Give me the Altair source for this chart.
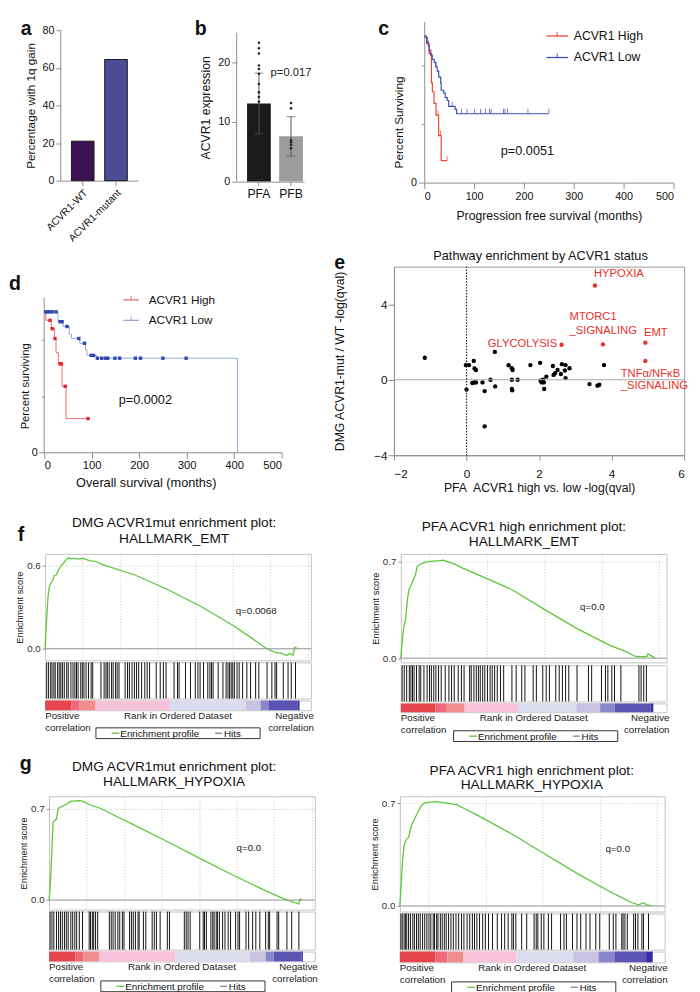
import altair as alt
import pandas as pd

FONT = "Liberation Sans"
NB = "\u00a0"
DEBUG_FRAMES = False
AX = "#8c8c8c"

# ---------------- data ----------------
a_groups = ["ACVR1-WT", "ACVR1-mutant"]
a_values = [21.0, 64.5]
a_colors = ["#3c1052", "#4a4c95"]

b_groups = ["PFA", "PFB"]
b_means = [13.1, 7.6]
b_lo = [8.0, 4.3]
b_hi = [18.2, 10.9]
b_colors = ["#1b1b1b", "#9c9c9c"]
b_pfa_pts = [23.3, 22.4, 21.5, 19.5, 18.9, 18.1, 16.4, 15.0, 14.2, 13.4]
b_pfb_pts = [13.2, 12.3, 7.0, 6.6, 6.2, 5.6]

km_groups = ["ACVR1 High", "ACVR1 Low"]
c_high_t = [0, 4.6, 9.8, 14.4, 16.3, 19.6, 23.5, 28.8, 34, 45.8]
c_high_s = [100, 95, 88, 68, 62, 54, 46, 32, 15, 15]
c_low_t = [0, 2, 5, 8, 10, 13, 16, 20, 23, 26, 29, 33, 34, 39, 42, 46, 49, 62, 65, 250]
c_low_s = [100, 99, 96, 93, 90, 87, 84, 82, 79, 76, 72, 68, 63, 61, 58, 56, 52, 50, 47, 47]
c_high_cens_t = [11.8, 27.5, 32.7, 45.8]
c_high_cens_s = [88, 46, 32, 15]
c_low_cens_t = [7, 24, 56, 75, 86, 101, 113, 123, 131, 134, 159, 162, 167, 208, 250]
c_low_cens_s = [96, 79, 52, 47, 47, 47, 47, 47, 47, 47, 47, 47, 47, 47, 47]

d_high_t = [0, 3.5, 15, 22, 25, 30, 37.7, 46, 92.5]
d_high_s = [100, 94, 88, 81, 71, 63, 47, 24, 24]
d_low_t = [0, 29, 40, 53, 57.5, 75, 87, 90, 110, 407, 407]
d_low_s = [100, 93, 89.6, 84, 81, 77.6, 73, 69, 67, 67, 0]
d_high_cens_t = [12.3, 17, 22.7, 33.6, 36.3, 44.5, 92.5]
d_high_cens_s = [94, 88, 81, 63, 63, 47, 24]
d_low_cens_t = [3.4, 6.8, 11.6, 17, 25, 33.6, 37.7, 48, 73, 85, 99, 104, 112, 121,
                129, 134, 149, 159, 192, 203, 250, 299]
d_low_cens_s = [100, 100, 100, 100, 100, 93, 93, 89.6, 81, 77.6, 69, 69, 67, 67,
                67, 67, 67, 67, 67, 67, 67, 67]

e_x = [-1.15, -0.02, 0.07, 0.0, 0.2, 0.22, 0.26, 0.16, 0.22, 0.26,
       0.44, 0.5, 0.5, 0.66, 0.79, 0.78, 1.16, 1.25, 1.27, 1.25,
       1.41, 1.25, 1.26, 1.76, 2.03, 2.04, 2.07, 2.11, 2.13, 2.2,
       2.14, 2.38, 2.4, 2.44, 2.51, 2.6, 2.63, 2.71, 2.73, 2.73,
       2.84, 3.39, 3.61, 3.66, 3.79]
e_y = [1.17, 0.78, 0.78, -0.52, 1.0, 0.6, 0.52, -0.17, -0.14, -0.14,
       -0.14, -0.6, -2.47, 0.0, -0.35, 1.48, 0.77, 0.61, 0.52, 0.0,
       0.0, -0.49, -0.56, 0.78, 0.9, -0.05, -0.14, 0.0, -0.14, 0.17,
       -0.49, 0.73, 0.26, 0.35, 0.52, 0.31, 0.83, 0.49, 0.78, 0.09,
       0.61, -0.23, -0.31, -0.26, 0.78]
e_hl_names = ["HYPOXIA", "MTORC1_SIGNALING", "GLYCOLYSIS", "EMT", "TNFα/NFκB_SIGNALING"]
e_hl_x = [3.54, 3.76, 2.62, 4.93, 4.93]
e_hl_y = [5.0, 1.88, 1.86, 1.97, 1.0]
e_lab_text = ["HYPOXIA", "MTORC1", "_SIGNALING", "GLYCOLYSIS", "EMT", "TNFα/NFκB", "_SIGNALING"]
e_lab_x = [4.2, 2.84, 2.84, 2.5, 4.89, 4.25, 4.25]
e_lab_y = [5.6, 3.3, 2.6, 1.88, 2.49, 0.31, -0.35]
e_lab_align = ["center", "left", "left", "right", "left", "left", "left"]

# GSEA panels (rank as % of the ordered list)
fL_es_x = [0, 0.25, 0.5, 1.1, 1.6, 2.2, 2.9, 3.4, 4.2, 5.0, 5.9, 6.9, 7.8, 8.7, 9.9, 11.2, 12.4,
           14.2, 16.7, 19.1, 21.6, 33.8, 46.1, 58.3, 70.6, 77.9, 82.8, 86.5, 89.0, 90.8, 92.0,
           93.3, 93.9, 94.5, 95.3]
fL_es_y = [0, 0.12, 0.19, 0.38, 0.45, 0.48, 0.50, 0.53, 0.535, 0.57, 0.60, 0.62, 0.645, 0.66,
           0.653, 0.655, 0.65, 0.655, 0.64, 0.633, 0.61, 0.535, 0.43, 0.31, 0.17, 0.075, 0.007,
           -0.027, -0.033, -0.05, -0.035, -0.048, 0.01, 0.005, 0.0]
fL_hits = [0.6, 1.3, 2.1, 2.6, 3.3, 3.8, 4.7, 5.3, 5.9, 6.5, 7.2, 8.1, 8.7, 9.7, 10.5, 11.2, 11.8,
           12.4, 13.4, 14.0, 14.6, 15.4, 16.3, 17.3, 17.9, 21.0, 22.2, 22.9, 23.4, 24.1, 25.0,
           25.6, 26.5, 27.1, 27.8, 30.1, 31.0, 31.7, 32.7, 33.6, 34.4, 35.2, 36.3, 37.5, 38.4,
           39.3, 41.8, 43.3, 44.5, 45.5, 48.5, 49.8, 50.4, 52.8, 54.7, 56.5, 57.5, 58.3, 59.6,
           61.2, 62.0, 62.6, 63.2, 65.1, 66.9, 68.1, 68.8, 69.4, 70.0, 70.6, 71.2, 72.2, 73.0,
           74.3, 75.9, 77.3, 79.2, 80.4, 83.5, 85.3, 86.5, 87.1, 89.6, 91.4, 92.6, 94.2]
fL_seg0 = [0, 10, 13, 19, 47, 75.5, 81, 84, 95]
fL_seg1 = [10, 13, 19, 47, 75.5, 81, 84, 95, 95.7]

fR_es_x = [0, 0.4, 1.0, 1.8, 2.5, 3.1, 3.9, 4.7, 5.5, 6.1, 7.1, 8.6, 11.0, 14.7, 16.0, 17.2, 19.6,
           23.3, 29.4, 41.7, 54.0, 66.3, 78.5, 84.7, 88.3, 90.8, 92.6, 93.0, 93.9, 95.7]
fR_es_y = [0, 0.095, 0.21, 0.285, 0.43, 0.50, 0.535, 0.57, 0.605, 0.665, 0.68, 0.695, 0.705,
           0.71, 0.713, 0.705, 0.69, 0.655, 0.605, 0.50, 0.355, 0.215, 0.095, 0.047, 0.012,
           0.01, 0.012, 0.03, 0.02, 0.0]
fR_hits = [0.5, 1.3, 2.2, 3.2, 3.8, 4.4, 5.0, 5.9, 6.9, 7.5, 8.7, 9.9, 10.8, 11.5, 12.4, 13.2,
           14.2, 15.2, 16.7, 18.1, 19.1, 20.1, 21.6, 22.8, 23.8, 25.9, 26.5, 27.5, 28.4, 29.2,
           29.9, 30.8, 31.6, 32.6, 33.6, 34.4, 35.3, 36.3, 37.5, 38.7, 41.8, 43.4, 45.5, 46.7,
           49.8, 51.0, 53.4, 54.7, 55.9, 58.3, 59.6, 60.8, 62.0, 63.2, 66.3, 70.6, 71.8, 75.5,
           77.0, 77.9, 79.4, 80.4, 82.8, 89.6, 90.4, 91.4, 92.4]
fR_seg0 = [0, 13, 17, 24, 44, 66, 75, 80.5, 94]
fR_seg1 = [13, 17, 24, 44, 66, 75, 80.5, 94, 95]

gL_es_x = [0, 0.4, 0.9, 1.5, 2.1, 2.8, 3.4, 4.3, 5.5, 6.7, 8.0, 9.8, 11.7, 13.5, 15.3, 19.0, 26.4,
           32.5, 44.8, 57.1, 69.3, 81.6, 87.7, 91.4, 93.9, 94.5, 95.3]
gL_es_y = [0, 0.095, 0.295, 0.595, 0.61, 0.62, 0.70, 0.713, 0.723, 0.735, 0.755, 0.76, 0.762,
           0.75, 0.73, 0.705, 0.63, 0.57, 0.445, 0.315, 0.19, 0.07, 0.015, -0.012, -0.03,
           0.007, 0.0]
gL_hits = [0.4, 1.1, 1.8, 2.8, 3.6, 4.3, 5.0, 5.8, 6.5, 7.2, 8.2, 8.9, 9.7, 10.4, 11.4, 12.6,
           15.1, 15.6, 16.3, 16.8, 17.5, 18.3, 22.7, 23.4, 24.1, 24.9, 25.9, 26.6, 27.6, 28.2,
           30.3, 31.0, 31.7, 32.5, 33.5, 33.9, 35.5, 36.4, 38.8, 39.6, 40.4, 41.8, 44.5, 45.3,
           50.9, 51.6, 52.3, 53.1, 56.7, 58.0, 58.5, 59.2, 60.9, 61.6, 62.1, 62.9, 63.4, 64.1,
           65.3, 66.2, 67.4, 68.3, 70.2, 71.1, 71.7, 74.1, 75.1, 76.6, 77.8, 79.3, 81.5, 82.5,
           83.0, 85.8, 86.4, 89.5, 91.3, 94.0]
gL_seg0 = [0, 10, 13, 19, 47.5, 75.5, 81.5, 84.5, 95]
gL_seg1 = [10, 13, 19, 47.5, 75.5, 81.5, 84.5, 95, 95.5]

gR_es_x = [0, 0.4, 1.0, 1.6, 2.5, 3.3, 4.3, 5.5, 6.7, 8.0, 9.2, 10.4, 13.5, 17.8, 21.5, 23.9,
           30.1, 42.3, 54.6, 66.9, 79.1, 84.0, 87.7, 90.2, 92.0, 93.3, 95.1]
gR_es_y = [0, 0.12, 0.30, 0.41, 0.455, 0.467, 0.545, 0.59, 0.635, 0.68, 0.70, 0.705, 0.71,
           0.70, 0.69, 0.667, 0.61, 0.49, 0.355, 0.222, 0.10, 0.055, 0.022, 0.007, 0.022,
           0.007, 0.0]
gR_hits = [0.4, 0.9, 1.6, 2.1, 2.6, 3.3, 4.0, 4.9, 5.5, 6.3, 7.0, 7.7, 8.6, 9.4, 10.2, 11.0,
           11.7, 12.6, 13.1, 13.9, 14.4, 15.3, 16.0, 16.8, 17.5, 18.4, 19.3, 20.2, 21.2, 22.2,
           23.3, 24.2, 25.4, 26.4, 27.4, 28.2, 29.1, 30.1, 31.3, 32.3, 33.5, 35.0, 36.8, 38.4,
           39.6, 40.9, 42.3, 42.9, 43.8, 46.0, 47.9, 50.7, 51.5, 52.1, 53.4, 54.4, 56.1, 57.3,
           60.7, 62.0, 62.9, 65.2, 66.9, 68.3, 70.3, 71.8, 74.0, 75.5, 79.1, 80.6, 81.6, 83.8,
           84.3, 85.0, 85.9, 88.3, 89.0, 89.9, 91.4, 92.0, 93.9]
gR_seg0 = [0, 13.5, 18, 24, 44, 65.5, 75, 81, 93]
gR_seg1 = [13.5, 18, 24, 44, 65.5, 75, 81, 93, 95.5]

SEG_COLORS = ["#e8464f", "#ee6a7a", "#f28d8f", "#f8c2da", "#dcdcef", "#c9c3e3",
              "#8986cc", "#5b54b3", "#3a2aa6"]
GRID_DMG = [14.1, 28.2, 42.4, 56.5, 70.6, 84.7, 98.8]
GRID_PFA = [10.8, 21.6, 32.4, 43.2, 54.0, 64.8, 75.6, 86.4, 97.2]
ES_GREEN = "#5cc83a"

SP = pd.DataFrame({"z": [0]})


def letter(t, x, y):
    # y is the top of the letter's text box
    return alt.Chart(SP).mark_text(text=t, fontSize=20, fontWeight="bold", align="left",
                                   baseline="top", color="#111", font=FONT).encode(
        x=alt.value(x), y=alt.value(y))


def label(t, x, y, size, align="center", baseline="middle", color="#111"):
    return alt.Chart(SP).mark_text(text=t, fontSize=size, align=align, baseline=baseline,
                                   color=color, font=FONT).encode(x=alt.value(x), y=alt.value(y))


def hseg(x0, x1, y, color, w=1.3):
    return alt.Chart(SP).mark_rule(color=color, strokeWidth=w).encode(
        x=alt.value(x0), x2=alt.value(x1), y=alt.value(y))


def vseg(x, y0, y1, color, w=1):
    return alt.Chart(SP).mark_rule(color=color, strokeWidth=w).encode(
        x=alt.value(x), y=alt.value(y0), y2=alt.value(y1))


def frame(x0, x1, y0, y1):
    # invisible cell box that fixes each panel's layout bounds
    if DEBUG_FRAMES:
        m = alt.Chart(SP).mark_rect(fillOpacity=0, stroke="#7fd8ff", strokeWidth=0.6)
    else:
        m = alt.Chart(SP).mark_rect(opacity=0)
    return m.encode(x=alt.value(x0), x2=alt.value(x1), y=alt.value(y0), y2=alt.value(y1))


def spacer():
    return alt.Chart(SP).mark_rect(opacity=0).encode(
        x=alt.value(0), x2=alt.value(1), y=alt.value(0), y2=alt.value(1)).properties(width=1, height=1)


def indep(c):
    return c.resolve_scale(color="independent", fill="independent", stroke="independent")


# ---------------- panel a ----------------
a_df = pd.DataFrame({"group": a_groups, "value": a_values, "fill": a_colors})
ya = alt.Scale(domain=[0, 84.8], nice=False)
pa_bars = alt.Chart(a_df).mark_bar(stroke="#1a1a1a", strokeWidth=1).encode(
    x=alt.X("group:N", sort=a_groups, scale=alt.Scale(paddingInner=0.32, paddingOuter=0.32),
            axis=alt.Axis(title=None, labelAngle=-45, labelFontSize=10.5, tickSize=5, labelPadding=2)),
    y=alt.Y("value:Q", scale=ya,
            axis=alt.Axis(values=[0, 20, 40, 60, 80], title="Percentage with 1q gain", domain=False,
                          titleFontSize=12, labelFontSize=11, tickSize=5, titlePadding=5, titleY=86)),
    fill=alt.Fill("fill:N", scale=None),
)
pa_dom = alt.Chart(SP).mark_rule(color=AX, strokeWidth=1).encode(
    x=alt.value(0), y=alt.datum(0), y2=alt.datum(80))
panel_a = alt.layer(pa_bars, pa_dom, letter("a", -41, -2), frame(-53, 116, -2, 232)).properties(
    width=79, height=163)

# ---------------- panel b ----------------
b_df = pd.DataFrame({"group": b_groups, "mean": b_means, "lo": b_lo, "hi": b_hi, "fill": b_colors})
b_pts = pd.DataFrame({"group": ["PFA"] * len(b_pfa_pts) + ["PFB"] * len(b_pfb_pts),
                      "v": b_pfa_pts + b_pfb_pts})
xb = alt.X("group:N", sort=b_groups,
           scale=alt.Scale(paddingInner=0.26, paddingOuter=0.18, align=0.9),
           axis=alt.Axis(title=None, labelAngle=0, labelFontSize=12.5, tickSize=4))
yb_scale = alt.Scale(domain=[0, 26.9], nice=False)
pb_bars = alt.Chart(b_df).mark_bar().encode(
    x=xb,
    y=alt.Y("mean:Q", scale=yb_scale,
            axis=alt.Axis(values=[0, 5, 10, 15, 20, 25], title="ACVR1 expression", domain=False,
                          titleFontSize=12.5, labelFontSize=11, tickSize=5, titlePadding=6, titleY=88)),
    fill=alt.Fill("fill:N", scale=None),
)
pb_dom = alt.Chart(SP).mark_rule(color=AX, strokeWidth=1).encode(
    x=alt.value(0), y=alt.datum(0), y2=alt.datum(25))
pb_err = alt.Chart(b_df).mark_rule(color="#555", strokeWidth=1).encode(
    x=xb, y=alt.Y("lo:Q", scale=yb_scale), y2="hi:Q")
pb_cap_hi = alt.Chart(b_df).mark_tick(color="#555", size=9, thickness=1).encode(
    x=xb, y=alt.Y("hi:Q", scale=yb_scale))
pb_cap_lo = alt.Chart(b_df).mark_tick(color="#555", size=9, thickness=1).encode(
    x=xb, y=alt.Y("lo:Q", scale=yb_scale))
pb_pts = alt.Chart(b_pts).mark_circle(size=7, color="#222", opacity=1).encode(
    x=xb, y=alt.Y("v:Q", scale=yb_scale))
pb_p = alt.Chart(pd.DataFrame({"group": ["PFB"], "y": [18.3], "t": ["p=0.017"]})).mark_text(
    fontSize=11.5, color="#222", font=FONT).encode(x=xb, y=alt.Y("y:Q", scale=yb_scale), text="t:N")
panel_b = alt.layer(pb_bars, pb_dom, pb_err, pb_cap_hi, pb_cap_lo, pb_pts, pb_p, letter("b", -43, -2),
                    frame(-64, 106, -2, 232)).properties(width=69, height=164)


# ---------------- KM helpers ----------------
def km_yaxis(title, tpad, ty, lpad, tfs, top, domain=True):
    return alt.Axis(values=list(range(0, top + 1, 10)),
                    labelExpr="datum.value % 50 === 0 ? datum.label : ''",
                    tickSize={"condition": {"test": "datum.value % 50 === 0", "value": 6}, "value": 3},
                    title=title, titleFontSize=tfs, labelFontSize=11, titlePadding=tpad,
                    labelPadding=lpad, titleY=ty, domain=domain)


def km_legend(x0, x1, xt, ys, colors, size):
    parts = []
    for y, col, name in zip(ys, colors, km_groups):
        parts.append(hseg(x0, x1, y, col))
        parts.append(vseg((x0 + x1) / 2, y - 4, y, col))
        parts.append(label(name, xt, y, size, align="left"))
    return parts


cxs = alt.Scale(domain=[0, 500], nice=False)
C_COLORS = ["#ee4433", "#3b4cc0"]

# ---------------- panel c ----------------
cys = alt.Scale(domain=[0, 110], nice=False)
c_line_df = pd.DataFrame({
    "t": c_high_t + c_low_t, "s": c_high_s + c_low_s,
    "g": ["ACVR1 High"] * len(c_high_t) + ["ACVR1 Low"] * len(c_low_t),
    "o": list(range(len(c_high_t))) + list(range(len(c_low_t)))})
c_cens_df = pd.DataFrame({
    "t": c_high_cens_t + c_low_cens_t, "s": c_high_cens_s + c_low_cens_s,
    "g": ["ACVR1 High"] * len(c_high_cens_t) + ["ACVR1 Low"] * len(c_low_cens_t)})
c_col = alt.Color("g:N", scale=alt.Scale(domain=km_groups, range=C_COLORS), legend=None)
c_lines = alt.Chart(c_line_df).mark_line(interpolate="step-after", strokeWidth=1.2).encode(
    x=alt.X("t:Q", scale=cxs, axis=alt.Axis(values=[0, 100, 200, 300, 400, 500],
                                             title="Progression free survival (months)",
                                             titleFontSize=12.5, labelFontSize=11, tickSize=6,
                                             titlePadding=9)),
    y=alt.Y("s:Q", scale=cys, axis=km_yaxis("Percent Surviving", 5, 103, 2, 12, 100)),
    color=c_col, order="o:Q",
)
c_ticks = alt.Chart(c_cens_df).mark_tick(orient="vertical", size=5, thickness=1, yOffset=-2.5).encode(
    x=alt.X("t:Q", scale=cxs), y=alt.Y("s:Q", scale=cys), color=c_col)
c_p = alt.Chart(pd.DataFrame({"t": [207], "s": [21.8], "l": ["p=0.0051"]})).mark_text(
    fontSize=13, color="#111", font=FONT).encode(x=alt.X("t:Q", scale=cxs), y=alt.Y("s:Q", scale=cys), text="l:N")
panel_c = alt.layer(c_lines, c_ticks, c_p, *km_legend(125, 147, 153, [15, 37], C_COLORS, 12.5),
                    letter("c", -47, -2), frame(-86, 270, -2, 232)).properties(width=255, height=165)

# ---------------- panel d ----------------
dys = alt.Scale(domain=[0, 132.2], nice=False)
D_LINE = ["#f06a6a", "#98a6d8"]
d_line_df = pd.DataFrame({
    "t": d_high_t + d_low_t, "s": d_high_s + d_low_s,
    "g": ["ACVR1 High"] * len(d_high_t) + ["ACVR1 Low"] * len(d_low_t),
    "o": list(range(len(d_high_t))) + list(range(len(d_low_t)))})
d_cens_df = pd.DataFrame({
    "t": d_high_cens_t + d_low_cens_t, "s": d_high_cens_s + d_low_cens_s,
    "g": ["ACVR1 High"] * len(d_high_cens_t) + ["ACVR1 Low"] * len(d_low_cens_t)})
d_lines = alt.Chart(d_line_df).mark_line(interpolate="step-after", strokeWidth=1).encode(
    x=alt.X("t:Q", scale=cxs, axis=alt.Axis(values=[0, 100, 200, 300, 400, 500],
                                             title="Overall survival (months)",
                                             titleFontSize=13, labelFontSize=11.5, tickSize=6,
                                             titlePadding=6, titleX=104)),
    y=alt.Y("s:Q", scale=dys, axis=km_yaxis("Percent surviving", 1, 122, 1, 11.5, 110, domain=False)),
    color=alt.Color("g:N", scale=alt.Scale(domain=km_groups, range=D_LINE), legend=None),
    order="o:Q",
)
d_dom = alt.Chart(SP).mark_rule(color=AX, strokeWidth=1).encode(
    x=alt.value(0), y=alt.datum(0), y2=alt.datum(110))
d_sq = alt.Chart(d_cens_df).mark_square(size=12, opacity=1).encode(
    x=alt.X("t:Q", scale=cxs), y=alt.Y("s:Q", scale=dys),
    fill=alt.Fill("g:N", scale=alt.Scale(domain=km_groups, range=["#e0262a", "#2f47b0"]), legend=None))
d_p = alt.Chart(pd.DataFrame({"t": [213], "s": [37], "l": ["p=0.0002"]})).mark_text(
    fontSize=13, color="#111", font=FONT).encode(x=alt.X("t:Q", scale=cxs), y=alt.Y("s:Q", scale=dys), text="l:N")
panel_d = alt.layer(d_lines, d_dom, d_sq, d_p, *km_legend(81, 97, 107, [34, 55], D_LINE, 12),
                    letter("d", -36, 8), frame(-36, 279, -18, 252)).properties(width=243, height=190)

# ---------------- panel e ----------------
exs = alt.Scale(domain=[-2, 6], nice=False)
eys = alt.Scale(domain=[-4, 6], nice=False)
e_df = pd.DataFrame({"x": e_x, "y": e_y})
e_hl = pd.DataFrame({"x": e_hl_x, "y": e_hl_y, "n": e_hl_names})
e_lab = pd.DataFrame({"t": e_lab_text, "x": e_lab_x, "y": e_lab_y, "a": e_lab_align})
e_pts = alt.Chart(e_df).mark_circle(size=20, color="#000", opacity=1).encode(
    x=alt.X("x:Q", scale=exs, axis=alt.Axis(values=[-2, 0, 2, 4, 6],
                                             title="PFA" + NB + " ACVR1 high vs. low -log(qval)",
                                             titleFontSize=12.5, labelFontSize=12, tickSize=5,
                                             labelPadding=9, titlePadding=2)),
    y=alt.Y("y:Q", scale=eys, axis=alt.Axis(values=[-4, -2, 0, 2, 4, 6],
                                             title="DMG ACVR1-mut / WT -log(qval)",
                                             titleFontSize=12.5, labelFontSize=12, tickSize=6,
                                             labelPadding=1, titlePadding=28)),
)
e_y0 = alt.Chart(SP).mark_rule(color="#a8a8a8", strokeWidth=1.2).encode(y=alt.datum(0))
e_x0 = alt.Chart(SP).mark_rule(color="#222", strokeDash=[1.5, 1.5], strokeWidth=1.2).encode(x=alt.datum(0))
e_red = alt.Chart(e_hl).mark_circle(size=20, color="#e8302a", opacity=1).encode(
    x=alt.X("x:Q", scale=exs), y=alt.Y("y:Q", scale=eys))
e_texts = []
for al in ["left", "center", "right"]:
    sub = e_lab[e_lab["a"] == al]
    e_texts.append(alt.Chart(sub).mark_text(align=al, fontSize=11.5, color="#e8302a", font=FONT).encode(
        x=alt.X("x:Q", scale=exs), y=alt.Y("y:Q", scale=eys), text="t:N"))
panel_e = alt.layer(e_pts, e_y0, e_x0, e_red, *e_texts, letter("e", -61, -14),
                    label("Pathway enrichment by ACVR1 status", 150, -4, 13, baseline="bottom"),
                    frame(-78, 302, -18, 252)).properties(
    width=297, height=193, view=alt.ViewBackground(stroke="#999", strokeWidth=1))


# ---------------- GSEA ----------------
def gsea_legend(bx0, by):
    return [
        alt.Chart(SP).mark_rect(fill="white", stroke="#333", strokeWidth=1).encode(
            x=alt.value(bx0), x2=alt.value(bx0 + 168), y=alt.value(by), y2=alt.value(by + 11)),
        hseg(bx0 + 16, bx0 + 24, by + 5.5, ES_GREEN),
        label("Enrichment profile", bx0 + 25, by + 6, 10, align="left"),
        hseg(bx0 + 122, bx0 + 129, by + 5.5, "#808080"),
        label("Hits", bx0 + 131, by + 6, 10, align="left"),
    ]


def gsea_panel(es_x, es_y, hits, seg0, seg1, ydom, yvals, grid, title, tx, ty1, ty2,
               qtext, qx, qy, bx0, by, w, es_h, hit_h, cb_h, fx0, fx1, es_top, cb_bot, let=None):
    xs = alt.Scale(domain=[0, 100], nice=False, zero=False)
    es_df = pd.DataFrame({"rank": es_x, "es": es_y})
    line = alt.Chart(es_df).mark_line(strokeWidth=1.3, color=ES_GREEN).encode(
        x=alt.X("rank:Q", scale=xs, axis=alt.Axis(values=grid, grid=True, gridDash=[1, 2],
                                                   gridColor="#c8c8c8", labels=False, ticks=False,
                                                   domain=False, title=None)),
        y=alt.Y("es:Q", scale=alt.Scale(domain=ydom, nice=False, zero=False),
                axis=alt.Axis(values=yvals, format=".1f", grid=True, gridDash=[1, 2],
                              gridColor="#c8c8c8", domain=False, tickSize=3, labelFontSize=10,
                              labelColor="#333", title="Enrichment score", titleFontSize=9.5,
                              titlePadding=2, labelPadding=2)),
    )
    zero = alt.Chart(SP).mark_rule(color="#9a9a9a", strokeWidth=1).encode(y=alt.datum(0))
    q = alt.Chart(pd.DataFrame({"x": [qx], "y": [qy], "t": [qtext]})).mark_text(
        fontSize=10, color="#222", font=FONT).encode(x="x:Q", y="y:Q", text="t:N")
    layers = [line, zero, q, label(title[0], tx, ty1, 14), label(title[1], tx, ty2, 14)]
    if let is not None:
        layers.append(letter(*let))
    layers.append(frame(fx0, fx1, es_top, es_h))
    es = alt.layer(*layers).properties(
        width=w, height=es_h, view=alt.ViewBackground(stroke="#c4c4c4", strokeWidth=1))

    hit_rules = alt.Chart(pd.DataFrame({"rank": hits})).mark_rule(color="#111", strokeWidth=1).encode(
        x=alt.X("rank:Q", scale=xs, axis=None))
    hit_ch = alt.layer(hit_rules, frame(fx0, fx1, 0, hit_h)).properties(
        width=w, height=hit_h, view=alt.ViewBackground(stroke="#c4c4c4", strokeWidth=1))

    cb_df = pd.DataFrame({"x0": seg0, "x1": seg1, "c": SEG_COLORS})
    cb_rect = alt.Chart(cb_df).mark_rect().encode(
        x=alt.X("x0:Q", scale=xs, axis=None), x2="x1:Q", color=alt.Color("c:N", scale=None))
    txt = []
    for t, xv, al, dx in [("Positive\ncorrelation", 0, "left", 0),
                          ("Rank in Ordered Dataset", 50, "center", 0),
                          ("Negative\ncorrelation", 100, "right", 3)]:
        txt.append(alt.Chart(pd.DataFrame({"x": [xv], "t": [t]})).mark_text(
            align=al, baseline="top", lineBreak="\n", fontSize=10, lineHeight=12, color="#222",
            dx=dx, font=FONT).encode(x=alt.X("x:Q", scale=xs, axis=None),
                                     y=alt.value(cb_h + 1), text="t:N"))
    cb = alt.layer(cb_rect, *txt, *gsea_legend(bx0, by), frame(fx0, fx1, 0, cb_bot)).properties(
        width=w, height=cb_h, view=alt.ViewBackground(stroke="#c4c4c4", strokeWidth=1))
    return indep(alt.vconcat(es, hit_ch, cb, spacing=0))


stack_fL = gsea_panel(fL_es_x, fL_es_y, fL_hits, fL_seg0, fL_seg1, [-0.085, 0.688],
                      [0, 0.1, 0.2, 0.3, 0.4, 0.5, 0.6], GRID_DMG,
                      ["DMG ACVR1mut enrichment plot:", "HALLMARK_EMT"], 132, -32, -15,
                      "q=0.0068", 79.4, 0.27, 52, 28, 272, 109, 37, 10, -36, 325, -40, 50,
                      ("f", -28, -29))
stack_fR = gsea_panel(fR_es_x, fR_es_y, fR_hits, fR_seg0, fR_seg1, [-0.031, 0.759],
                      [0, 0.1, 0.2, 0.3, 0.4, 0.5, 0.6, 0.7], GRID_PFA,
                      ["PFA ACVR1 high enrichment plot:", "HALLMARK_EMT"], 126, -27, -12,
                      "q=0.0", 72.1, 0.37, 54, 28, 272, 111, 37, 9, -37, 297, -40, 49)
stack_gL = gsea_panel(gL_es_x, gL_es_y, gL_hits, gL_seg0, gL_seg1, [-0.073, 0.795],
                      [0, 0.1, 0.2, 0.3, 0.4, 0.5, 0.6, 0.7], GRID_DMG,
                      ["DMG ACVR1mut enrichment plot:", "HALLMARK_HYPOXIA"], 128, -30, -14,
                      "q=0.0", 75.2, 0.40, 53, 30, 272, 116, 39, 10, -40, 321, -44, 44,
                      ("g", -30, -43))
stack_gR = gsea_panel(gR_es_x, gR_es_y, gR_hits, gR_seg0, gR_seg1, [-0.038, 0.747],
                      [0, 0.1, 0.2, 0.3, 0.4, 0.5, 0.6, 0.7], GRID_PFA,
                      ["PFA ACVR1 high enrichment plot:", "HALLMARK_HYPOXIA"], 135, -26, -11,
                      "q=0.0", 82.3, 0.39, 53, 31, 271, 118, 37, 11, -36, 298, -44, 44)

# ---------------- layout ----------------
row1 = indep(alt.hconcat(spacer(), panel_a, panel_b, panel_c, spacing=0))
row2 = indep(alt.hconcat(spacer(), panel_d, panel_e, spacing=0))
row3 = indep(alt.hconcat(spacer(), stack_fL, stack_fR, spacing=0))
row4 = indep(alt.hconcat(spacer(), stack_gL, stack_gR, spacing=0))

chart = indep(alt.vconcat(row1, row2, row3, row4, spacing=0)).properties(padding=0)

chart = chart.configure_view(stroke=None).configure_axis(
    labelFont=FONT, titleFont=FONT, titleFontWeight="normal", domainColor=AX,
    tickColor=AX, labelColor="#111", titleColor="#111", grid=False
).configure_title(font=FONT, fontWeight="normal").configure_text(font=FONT)

chart.save("out.html", embed_options={"renderer": "svg", "actions": False})
